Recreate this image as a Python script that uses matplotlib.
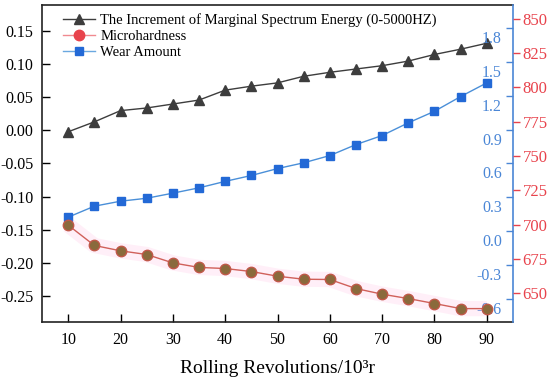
import matplotlib
matplotlib.use('Agg')
import matplotlib.pyplot as plt
from matplotlib.lines import Line2D
from matplotlib.transforms import ScaledTranslation
import numpy as np

# rolling revolutions (10^3 r)
rev = [10, 15, 20, 25, 30, 35, 40, 45, 50, 55, 60, 65, 70, 75, 80, 85, 90]
# increment of marginal spectrum energy (left axis)
energy = [-0.002, 0.013, 0.030, 0.034, 0.040, 0.046, 0.061, 0.067, 0.072,
          0.082, 0.088, 0.093, 0.098, 0.105, 0.115, 0.123, 0.132]
# microhardness (outer right axis)
hardness = [699.6, 684.8, 680.9, 678.2, 672.1, 668.8, 668.0, 665.8, 662.4,
            660.2, 660.0, 653.4, 649.3, 646.1, 642.5, 638.8, 638.8]
# wear amount (inner right axis)
wear = [0.126, 0.223, 0.267, 0.293, 0.338, 0.385, 0.442, 0.494, 0.555,
        0.606, 0.670, 0.767, 0.847, 0.959, 1.061, 1.191, 1.312]

left_ticks = [-0.25, -0.20, -0.15, -0.10, -0.05, 0.00, 0.05, 0.10, 0.15]
wear_ticks = [-0.6, -0.3, 0.0, 0.3, 0.6, 0.9, 1.2, 1.5, 1.8]
hard_ticks = [650, 675, 700, 725, 750, 775, 800, 825, 850]

c_blk = '#3d3d3d'
c_red = '#e8434c'
c_blu = '#2369d6'
c_blu_ax = '#4a86d6'

plt.rcParams['font.family'] = 'Liberation Serif'
plt.rcParams['font.size'] = 10.5
plt.rcParams['axes.unicode_minus'] = False

fig = plt.figure(figsize=(5.5, 3.78), dpi=100)
ax = fig.add_axes([0.0764, 0.148, 0.8563, 0.839])
axb = ax.twinx()
axr = ax.twinx()

# data
ax.plot(rev, energy, '-^', color=c_blk, lw=1, ms=7)
axr.plot(rev, hardness, '-', color='#ff80c8', lw=11, alpha=0.12, solid_capstyle='butt')
axr.plot(rev, hardness, '-o', color='#d0605a', lw=1, ms=7.5,
         mfc='#8a6a3c', mec='#c05848')
axb.plot(rev, wear, '-s', color='#4a8fd8', lw=1, ms=6, mfc=c_blu, mec=c_blu)

# left axis
ax.set_xlim(5, 95)
ax.set_ylim(-0.29, 0.19)
ax.set_xticks(range(10, 91, 10))
ax.set_yticks(left_ticks)
ax.set_yticklabels(['%.2f' % v for v in left_ticks])
ax.tick_params(direction='in', length=6, width=1, top=False, right=False)
ax.tick_params(axis='x', pad=7, labelsize=11.5)
ax.tick_params(axis='y', pad=6, labelsize=11.5)
ax.spines['right'].set_visible(False)
for s in ['left', 'bottom', 'top']:
    ax.spines[s].set_linewidth(1.2)
    ax.spines[s].set_color('#222222')
ax.set_xlabel('Rolling Revolutions/10³r', fontsize=14, labelpad=9)

# inner right axis (wear)
axb.set_ylim(-0.8, 2.0)
axb.set_yticks(wear_ticks)
axb.set_yticklabels(['%.1f' % v for v in wear_ticks])
axb.tick_params(axis='y', direction='in', length=5, width=1, colors=c_blu_ax,
                pad=-8, labelsize=11.5)
for s in ['left', 'bottom', 'top']:
    axb.spines[s].set_visible(False)
axb.spines['right'].set_color(c_blu_ax)
axb.spines['right'].set_linewidth(1.2)
off = ScaledTranslation(0, -0.09, fig.dpi_scale_trans)
for lab in axb.get_yticklabels():
    lab.set_horizontalalignment('right')
    lab.set_transform(lab.get_transform() + off)

# outer right axis (microhardness)
axr.set_ylim(629, 860)
axr.set_yticks(hard_ticks)
axr.tick_params(axis='y', direction='out', length=5, width=1, colors=c_red,
                pad=2, labelsize=12)
for s in ['left', 'bottom', 'top', 'right']:
    axr.spines[s].set_visible(False)

handles = [Line2D([], [], color=c_blk, marker='^', ms=7, lw=1),
           Line2D([], [], color='#f08a90', marker='o', ms=7.5, lw=1, mfc=c_red, mec=c_red),
           Line2D([], [], color='#6aa8e0', marker='s', ms=6, lw=1, mfc=c_blu, mec=c_blu)]
labels = ['The Increment of Marginal Spectrum Energy (0-5000HZ)',
          'Microhardness', 'Wear Amount']
axr.legend(handles, labels, loc='upper left', bbox_to_anchor=(0.045, 0.975),
           frameon=False, handlelength=2.2, handletextpad=0.35,
           labelspacing=0.2, borderpad=0, borderaxespad=0, fontsize=10.5)

fig.savefig('out.png', dpi=100)
